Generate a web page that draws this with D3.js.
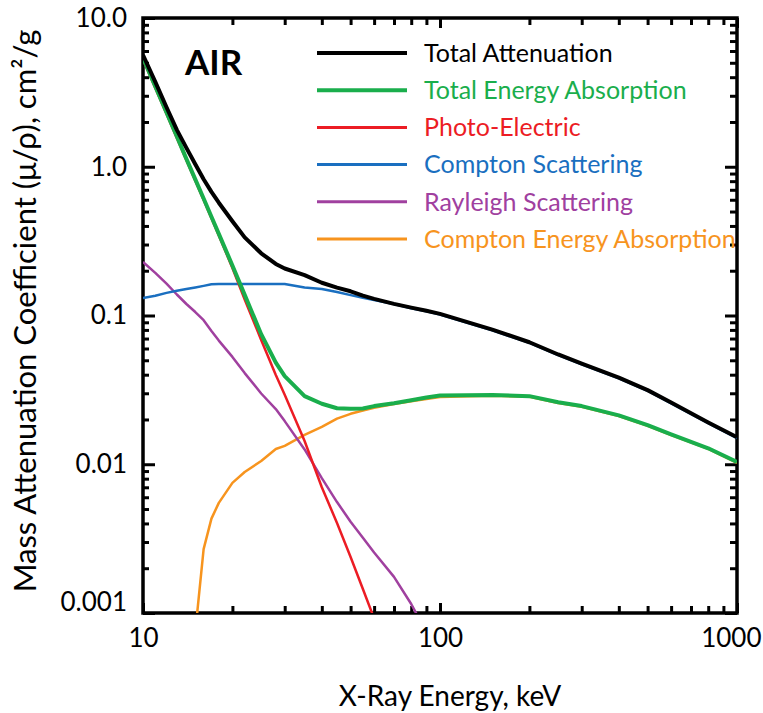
<!DOCTYPE html>
<html>
<head>
<meta charset="utf-8">
<script src="https://cdn.jsdelivr.net/npm/d3@7"></script>
<style>
  body { margin: 0; background: #fff; }
  svg text { font-family: Lato, "Open Sans", sans-serif; }
</style>
</head>
<body>
<svg id="chart" width="763" height="713"></svg>
<script>
// photon energy, keV
let energy = [10, 11, 12, 13, 14, 15, 16, 17, 18, 20, 22, 25, 28, 30, 35, 40, 45, 50, 55, 60,
              70, 80, 90, 100, 150, 200, 250, 300, 400, 500, 600, 800, 1000];

// mass coefficients, cm2/g
let totalAtten = [5.64, 3.72, 2.51, 1.77, 1.34, 1.04, 0.824, 0.678, 0.573, 0.430, 0.335, 0.262, 0.222, 0.207,
                  0.187, 0.166, 0.154, 0.1455, 0.136, 0.1294, 0.1198, 0.113, 0.1076, 0.1026, 0.0804, 0.0661,
                  0.0547, 0.0475, 0.0382, 0.0315, 0.0260, 0.0191, 0.0152];
let totalEnAbs = [5.38, 3.46, 2.32, 1.60, 1.13, 0.823, 0.611, 0.461, 0.354, 0.217, 0.1376, 0.0749, 0.0482, 0.0391,
                  0.0287, 0.0255, 0.0238, 0.0236, 0.0237, 0.0246, 0.0257, 0.0269, 0.0281, 0.0290, 0.0292, 0.0287,
                  0.0261, 0.0246, 0.0213, 0.0183, 0.0159, 0.0128, 0.01035];
let photoElec = [5.26, 3.38, 2.26, 1.56, 1.106, 0.804, 0.597, 0.451, 0.3455, 0.2086, 0.1281, 0.0685, 0.0398, 0.0293,
                 0.01433, 0.00701, 0.00403, 0.00238, 0.00145, 0.000918, null, null, null, null, null, null,
                 null, null, null, null, null, null, null];
let compton = [0.1311, 0.1358, 0.1419, 0.1466, 0.1505, 0.1543, 0.1582, 0.1621, 0.1628, 0.1628, 0.1628, 0.1628, 0.1628, 0.1628,
               0.1541, 0.1509, 0.1437, 0.1371, 0.1318, 0.1270, 0.1193, 0.1118, 0.1066, 0.1015, 0.0795, 0.0654,
               0.0541, 0.0470, 0.0378, 0.0312, 0.0257, 0.0189, 0.0150];
let rayleigh = [0.2289, 0.1934, 0.1636, 0.1384, 0.1195, 0.1055, 0.0930, 0.0787, 0.0678, 0.0527, 0.0410, 0.0299, 0.0235, 0.0195,
                0.01257, 0.00806, 0.00557, 0.00411, 0.00321, 0.00255, 0.00175, 0.00115, 0.00074, null, null, null,
                null, null, null, null, null, null, null];
let comptonEnAbs = [null, null, null, null, null, 0.00075, 0.00269, 0.00431, 0.0055, 0.0075, 0.00887, 0.01053, 0.01266, 0.0133,
                    0.01575, 0.01783, 0.02027, 0.02183, 0.02297, 0.02396, 0.02537, 0.0265, 0.02746, 0.02833, 0.0289, 0.0284,
                    0.0258, 0.0243, 0.0211, 0.0181, 0.0157, 0.0127, 0.0102];

let seriesNames = ["Total Attenuation", "Total Energy Absorption", "Photo-Electric",
                   "Compton Scattering", "Rayleigh Scattering", "Compton Energy Absorption"];

let xTicks = [10, 100, 1000];
let xTickLabels = ["10", "100", "1000"];
let yTicks = [0.001, 0.01, 0.1, 1, 10];
let yTickLabels = ["0.001", "0.01", "0.1", "1.0", "10.0"];

let svg = d3.select("#chart");
let margin = {left: 143, top: 18, right: 26, bottom: 100};
let width = 763 - margin.left - margin.right;
let height = 713 - margin.top - margin.bottom;

let xScale = d3.scaleLog().domain([10, 1000]).range([0, width]);
let yScale = d3.scaleLog().domain([0.001, 10]).range([height, 0]);

let g = svg.append("g").attr("transform", `translate(${margin.left},${margin.top})`);

svg.append("defs").append("clipPath").attr("id", "plotClip")
  .append("rect").attr("width", width).attr("height", height);

// minor tick values
let xMinor = [];
for (let d = 10; d < 1000; d *= 10) {
  for (let k = 2; k <= 9; k++) xMinor.push(d * k);
}
let yMinor = [];
for (let d = 0.001; d < 10; d *= 10) {
  for (let k = 2; k <= 9; k++) yMinor.push(+(d * k).toPrecision(3));
}

function styleAxis(sel) {
  sel.select(".domain").remove();
  sel.selectAll("line").attr("stroke", "#000").attr("stroke-width", 3);
  sel.selectAll("text").attr("fill", "#000").style("font-size", "26px");
}

// bottom + top
g.append("g").attr("transform", `translate(0,${height})`)
  .call(d3.axisBottom(xScale).tickValues(xMinor).tickSize(-7).tickFormat(""))
  .call(styleAxis);
let xAx = g.append("g").attr("transform", `translate(0,${height})`)
  .call(d3.axisBottom(xScale).tickValues(xTicks).tickSize(-10).tickPadding(16)
    .tickFormat((d, i) => xTickLabels[i]))
  .call(styleAxis);
xAx.selectAll(".tick:last-of-type text").attr("text-anchor", "end").attr("dx", 24);

g.append("g")
  .call(d3.axisTop(xScale).tickValues(xMinor).tickSize(-7).tickFormat(""))
  .call(styleAxis);
g.append("g")
  .call(d3.axisTop(xScale).tickValues(xTicks).tickSize(-10).tickFormat(""))
  .call(styleAxis);

// left + right
g.append("g")
  .call(d3.axisLeft(yScale).tickValues(yMinor).tickSize(-6).tickFormat(""))
  .call(styleAxis);
let yAx = g.append("g")
  .call(d3.axisLeft(yScale).tickValues(yTicks).tickSize(-12).tickPadding(16)
    .tickFormat((d, i) => yTickLabels[i]))
  .call(styleAxis);
yAx.selectAll(".tick:first-of-type text").attr("dy", "-0.1em");

g.append("g").attr("transform", `translate(${width},0)`)
  .call(d3.axisRight(yScale).tickValues(yMinor).tickSize(-7).tickFormat(""))
  .call(styleAxis);
g.append("g").attr("transform", `translate(${width},0)`)
  .call(d3.axisRight(yScale).tickValues(yTicks).tickSize(-12).tickFormat(""))
  .call(styleAxis);

// frame
g.append("rect").attr("width", width).attr("height", height)
  .attr("fill", "none").attr("stroke", "#000").attr("stroke-width", 3.5);

// curves
let series = [
  {name: seriesNames[5], values: comptonEnAbs, color: "#f7941e", w: 2.5},
  {name: seriesNames[4], values: rayleigh, color: "#a0409f", w: 2.5},
  {name: seriesNames[3], values: compton, color: "#1a6fc0", w: 2.5},
  {name: seriesNames[2], values: photoElec, color: "#ec1c24", w: 2.5},
  {name: seriesNames[1], values: totalEnAbs, color: "#1aae4c", w: 4},
  {name: seriesNames[0], values: totalAtten, color: "#000000", w: 4}
];

let line = d3.line()
  .defined(d => d.v != null)
  .x(d => xScale(d.e))
  .y(d => yScale(d.v));

let plot = g.append("g").attr("clip-path", "url(#plotClip)");
for (let s of series) {
  let pts = energy.map((e, i) => ({e: e, v: s.values[i]}));
  plot.append("path").datum(pts)
    .attr("d", line)
    .attr("fill", "none")
    .attr("stroke", s.color)
    .attr("stroke-width", s.w)
    .attr("stroke-linejoin", "round");
}

// legend
let legend = svg.append("g");
let legendOrder = series.slice().reverse();
for (let i = 0; i < legendOrder.length; i++) {
  let s = legendOrder[i];
  let y = 53 + i * 37.2;
  legend.append("line").attr("x1", 317).attr("x2", 407).attr("y1", y).attr("y2", y)
    .attr("stroke", s.color).attr("stroke-width", s.w === 4 ? 4 : 3);
  legend.append("text").attr("x", 424).attr("y", y).attr("dy", "0.35em")
    .attr("fill", s.color).style("font-size", "25px").text(s.name);
}

svg.append("text").attr("x", 185).attr("y", 75)
  .style("font-size", "35px").style("font-weight", "bold").text("AIR");

// axis titles
svg.append("text").attr("x", 450).attr("y", 706).attr("text-anchor", "middle")
  .style("font-size", "28px").text("X-Ray Energy, keV");

svg.append("text").attr("transform", "translate(36,311) rotate(-90)")
  .attr("text-anchor", "middle").style("font-size", "31px")
  .text("Mass Attenuation Coefficient (\u03bc/\u03c1), cm\u00b2/g");
</script>
</body>
</html>
